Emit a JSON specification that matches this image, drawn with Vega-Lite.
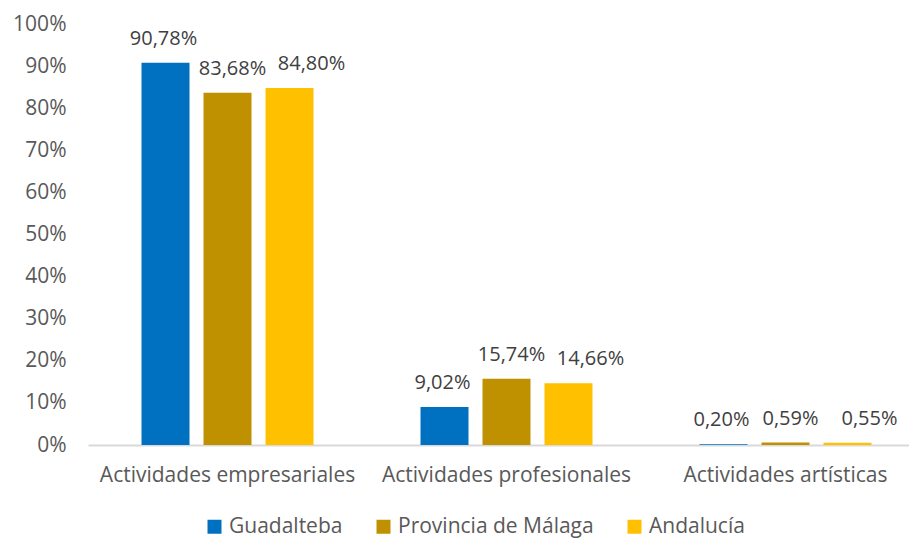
{
  "$schema": "https://vega.github.io/schema/vega-lite/v6.json",
  "width": 837,
  "height": 421,
  "autosize": {"type": "none"},
  "padding": {"left": 88, "top": 24, "right": 0, "bottom": 97},
  "config": {
    "locale": {"number": {"decimal": ",", "thousands": ".", "grouping": [3], "currency": ["", " €"]}},
    "view": {"stroke": null},
    "font": "Open Sans",
    "text": {"font": "Open Sans"}
  },
  "data": {
    "values": [
      {"cat": "Actividades empresariales", "serie": "Guadalteba", "v": 0.9078},
      {"cat": "Actividades empresariales", "serie": "Provincia de Málaga", "v": 0.8368},
      {"cat": "Actividades empresariales", "serie": "Andalucía", "v": 0.848},
      {"cat": "Actividades profesionales", "serie": "Guadalteba", "v": 0.0902},
      {"cat": "Actividades profesionales", "serie": "Provincia de Málaga", "v": 0.1574},
      {"cat": "Actividades profesionales", "serie": "Andalucía", "v": 0.1466},
      {"cat": "Actividades artísticas", "serie": "Guadalteba", "v": 0.002},
      {"cat": "Actividades artísticas", "serie": "Provincia de Málaga", "v": 0.0059},
      {"cat": "Actividades artísticas", "serie": "Andalucía", "v": 0.0055}
    ]
  },
  "encoding": {
    "x": {
      "field": "cat", "type": "nominal", "sort": null, "title": null,
      "scale": {"paddingInner": 0.3333, "paddingOuter": 0.1667},
      "axis": {"labelAngle": 0, "labelFontSize": 21, "labelColor": "#595959", "labelFont": "Open Sans", "labelLimit": 0, "ticks": false, "domainColor": "#D9D9D9", "domainWidth": 2, "labelPadding": 19}
    },
    "xOffset": {
      "field": "serie", "type": "nominal", "sort": ["Guadalteba", "Provincia de Málaga", "Andalucía"],
      "scale": {"paddingInner": 0.226, "paddingOuter": 0.113}
    },
    "y": {
      "field": "v", "type": "quantitative", "title": null,
      "scale": {"domain": [0, 1], "nice": false},
      "axis": {"format": ".0%", "values": [0, 0.1, 0.2, 0.3, 0.4, 0.5, 0.6, 0.7, 0.8, 0.9, 1], "grid": false, "domain": false, "ticks": false, "labelFontSize": 21, "labelColor": "#595959", "labelFont": "Open Sans", "labelPadding": 22}
    }
  },
  "layer": [
    {
      "mark": {"type": "bar"},
      "encoding": {
        "color": {
          "field": "serie", "type": "nominal", "sort": ["Guadalteba", "Provincia de Málaga", "Andalucía"], "title": null,
          "scale": {"domain": ["Guadalteba", "Provincia de Málaga", "Andalucía"], "range": ["#0070C0", "#BF9000", "#FFC000"]},
          "legend": {"orient": "none", "legendX": 116, "legendY": 492, "direction": "horizontal", "symbolType": "square", "symbolSize": 196, "symbolStrokeWidth": 0, "labelFontSize": 21, "labelColor": "#595959", "labelFont": "Open Sans", "labelLimit": 0, "columnPadding": 30, "labelOffset": 4}
        }
      }
    },
    {
      "mark": {"type": "text", "baseline": "alphabetic", "dy": -18, "fontSize": 20, "color": "#404040", "font": "Open Sans",
        "dx": {"expr": "datum.serie === 'Andalucía' ? 22 : (datum.serie === 'Provincia de Málaga' ? 5 : -2)"}},
      "encoding": {
        "text": {"field": "v", "type": "quantitative", "format": ".2%"}
      }
    }
  ]
}
